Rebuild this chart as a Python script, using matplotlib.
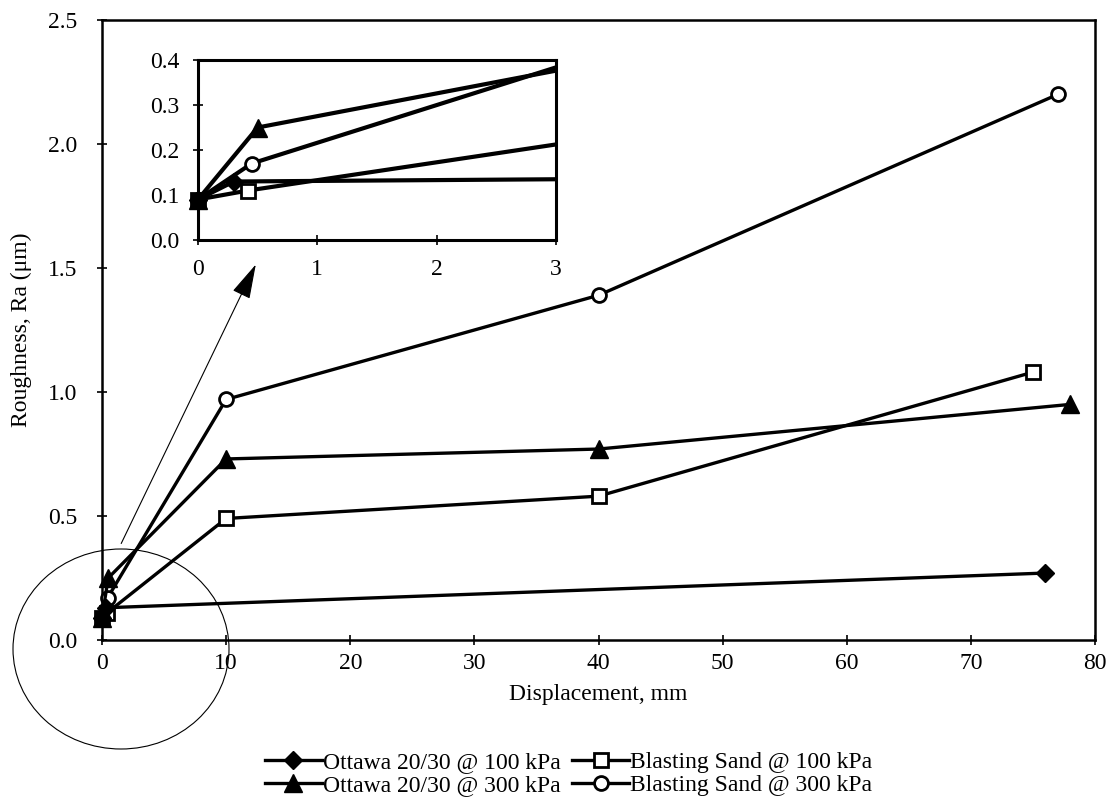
import matplotlib
matplotlib.use("Agg")
import matplotlib.pyplot as plt
from matplotlib.patches import Ellipse
import numpy as np

plt.rcParams['font.family'] = ['Liberation Serif', 'DejaVu Serif']

# ---- data ----
ottawa100_x = [0, 0.3, 76]
ottawa100_y = [0.09, 0.13, 0.27]
ottawa300_x = [0, 0.5, 10, 40, 78]
ottawa300_y = [0.09, 0.25, 0.73, 0.77, 0.95]
blast100_x = [0, 0.42, 10, 40, 75]
blast100_y = [0.09, 0.11, 0.49, 0.58, 1.08]
blast300_x = [0, 0.45, 10, 40, 77]
blast300_y = [0.09, 0.17, 0.97, 1.39, 2.20]

labels = ["Ottawa 20/30 @ 100 kPa", "Ottawa 20/30 @ 300 kPa",
          "Blasting Sand @ 100 kPa", "Blasting Sand @ 300 kPa"]
x_ticks = [0, 10, 20, 30, 40, 50, 60, 70, 80]
y_ticks = [0.0, 0.5, 1.0, 1.5, 2.0, 2.5]
inset_x_ticks = [0, 1, 2, 3]
inset_y_ticks = [0.0, 0.1, 0.2, 0.3, 0.4]

series = [
    (ottawa100_x, ottawa100_y, dict(marker='D', markersize=9, mfc='black', mec='black'), 4),
    (ottawa300_x, ottawa300_y, dict(marker='^', markersize=13, mfc='black', mec='black'), 4),
    (blast100_x, blast100_y, dict(marker='s', markersize=10, mfc='white', mec='black', mew=2), 3),
    (blast300_x, blast300_y, dict(marker='o', markersize=10, mfc='white', mec='black', mew=2), 3),
]

W, H = 1115, 809
fig = plt.figure(figsize=(W / 100, H / 100), dpi=100)
fig.patch.set_facecolor('white')

FS = 17

# main axes (pixel box: left 102, right 1095, top 20, bottom 640)
ax = fig.add_axes([102 / W, 1 - 640 / H, (1095 - 102) / W, (640 - 20) / H])
handles = [None] * 4
order = [2, 3, 0, 1]
for i in order:
    xs, ys, st, z = series[i]
    h, = ax.plot(xs, ys, color='black', lw=2.4, label=labels[i], clip_on=False,
                 zorder=z, **st)
    handles[i] = h
ax.set_xlim(0, 80)
ax.set_ylim(0, 2.5)
ax.set_xticks(x_ticks)
ax.set_xticklabels([str(v) for v in x_ticks])
ax.set_yticks(y_ticks)
ax.set_yticklabels([f"{v:.1f}" for v in y_ticks])
ax.tick_params(direction='inout', length=7, width=1.2, labelsize=FS)
ax.tick_params(axis='y', pad=14)
ax.tick_params(axis='x', pad=6)
for s in ax.spines.values():
    s.set_linewidth(1.8)
ax.set_xlabel("Displacement, mm", fontsize=FS, labelpad=7)
ax.set_ylabel("Roughness, Ra (\u03bcm)", fontsize=FS, labelpad=12)

leg = ax.legend(handles=handles, ncol=2, loc='upper center',
                bbox_to_anchor=(0.47, -0.165), frameon=False, fontsize=FS,
                handlelength=2.4, handletextpad=0.05, columnspacing=0.5,
                labelspacing=0.05, borderaxespad=0)

# inset axes (pixel box: left 198, right 556, top 60, bottom 240)
axi = fig.add_axes([198 / W, 1 - 240 / H, (556 - 198) / W, (240 - 60) / H])
for i in order:
    xs, ys, st, z = series[i]
    axi.plot(xs, ys, color='black', lw=3, linestyle='-', marker=None, zorder=2)
    xa = np.array(xs)
    ya = np.array(ys)
    m = xa <= 3
    axi.plot(xa[m], ya[m], linestyle='none', clip_on=False, zorder=z + 2, **st)
axi.set_xlim(0, 3)
axi.set_ylim(0, 0.4)
axi.set_xticks(inset_x_ticks)
axi.set_xticklabels([str(v) for v in inset_x_ticks])
axi.set_yticks(inset_y_ticks)
axi.set_yticklabels([f"{v:.1f}" for v in inset_y_ticks])
axi.tick_params(direction='inout', length=7, width=1.2, labelsize=FS)
axi.tick_params(axis='y', pad=10)
axi.tick_params(axis='x', pad=10)
for s in axi.spines.values():
    s.set_linewidth(2.2)

# circle around origin and arrow to inset
ell = Ellipse((121 / W, 1 - 649 / H), 216 / W, 200 / H, transform=fig.transFigure,
              fill=False, edgecolor='black', lw=0.8)
fig.add_artist(ell)
ax.annotate("", xy=(257, H - 262), xycoords='figure pixels',
            xytext=(120, H - 546), textcoords='figure pixels',
            arrowprops=dict(arrowstyle='-|>,head_length=1.1,head_width=0.3',
                            mutation_scale=20, lw=0.8, color='black'))

fig.savefig("out.png", dpi=100, facecolor='white')
